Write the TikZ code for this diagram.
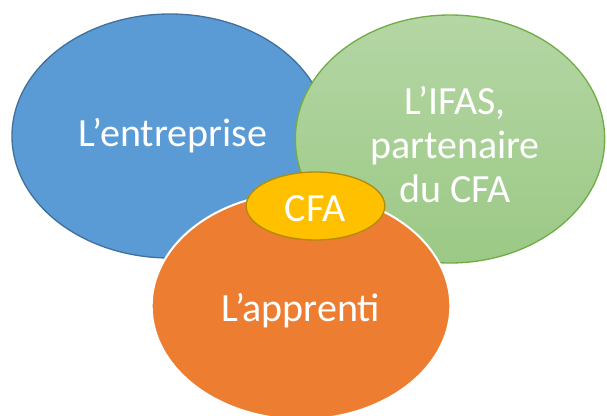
\documentclass[tikz,border=0pt]{standalone}
\usepackage{fontspec}
\setmainfont{Carlito}
\usetikzlibrary{shapes.geometric}
\definecolor{bleuEnt}{RGB}{91,155,213}
\definecolor{bleuBord}{RGB}{65,113,156}
\definecolor{vertHaut}{RGB}{180,214,164}
\definecolor{vertBas}{RGB}{156,201,134}
\definecolor{vertBord}{RGB}{112,173,71}
\definecolor{orangeApp}{RGB}{237,125,49}
\definecolor{jauneCfa}{RGB}{255,192,0}
\definecolor{jauneBord}{RGB}{178,140,10}
\tikzset{
  bulle/.style={ellipse, inner sep=0pt, line width=1pt, text=white, align=center, font=\fontsize{30}{33}\selectfont},
}
\begin{document}
\begin{tikzpicture}[x=0.75pt,y=0.75pt,yscale=-1,xscale=1]
        \useasboundingbox (0,0) rectangle (607,415);
        %Shape: Ellipse [id:entreprise]
        \node [bulle, draw=bleuBord, fill=bleuEnt, minimum width=237pt, minimum height=183pt] (entreprise) at (170,136) {};
        %Shape: Ellipse [id:ifas]
        \node [bulle, draw=vertBord, top color=vertHaut, bottom color=vertBas, minimum width=232pt, minimum height=186pt] (ifas) at (450,139) {};
        %Shape: Ellipse [id:apprenti]
        \node [bulle, draw=white, line width=1.5pt, fill=orangeApp, minimum width=224pt, minimum height=170pt] (apprenti) at (301,306) {};
        %Shape: Ellipse [id:cfa]
        \node [bulle, draw=jauneBord, fill=jauneCfa, minimum width=104pt, minimum height=51pt] (cfa) at (315.5,206) {};
        % Text Node
        \node [bulle] (txtEntreprise) at (173,136) {L’entreprise};
        % Text Node
        \node [bulle] (txtIfas) at (455,145) {L’IFAS,\\partenaire\\du CFA};
        % Text Node
        \node [bulle] (txtApprenti) at (301,311) {L’apprenti};
        % Text Node
        \node [bulle] (txtCfa) at (315,209) {CFA};
\end{tikzpicture}
\end{document}
